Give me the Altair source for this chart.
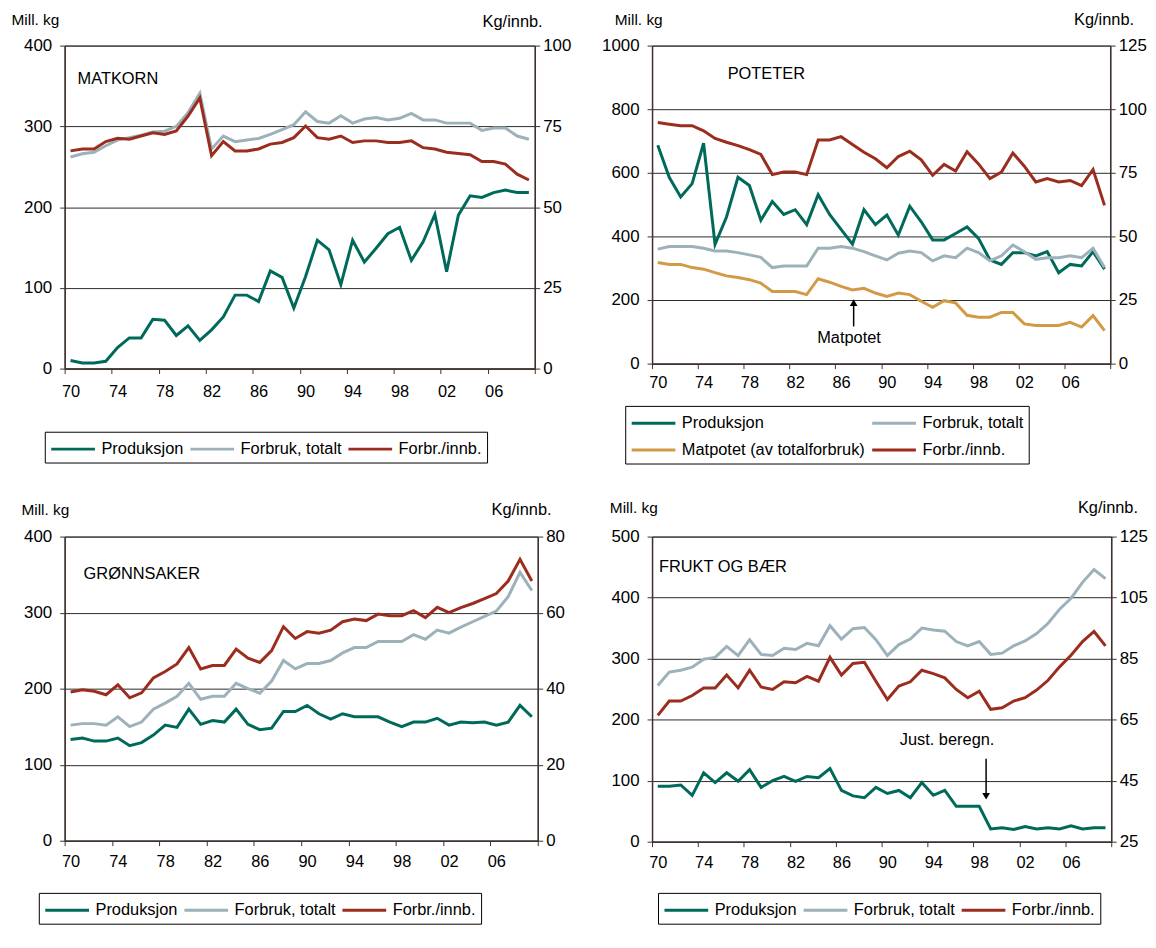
import altair as alt
import pandas as pd

YEARS = list(range(1970, 2010))

# ---------------- MATKORN ----------------
MATKORN_PROD = [10, 7, 7, 9, 26, 38, 38, 61, 60, 41, 53, 35, 48, 64, 91, 91, 83, 121, 113, 75,
                114, 159, 147, 104, 159, 132, 149, 167, 175, 134, 157, 191, 120, 190, 214, 212, 218, 221, 218, 218]
MATKORN_FORBRUK = [262, 266, 268, 276, 283, 286, 289, 293, 294, 300, 317, 341, 272, 288, 281, 283, 285, 290, 296, 302,
                   318, 306, 304, 313, 304, 309, 311, 308, 310, 316, 308, 308, 304, 304, 304, 295, 298, 298, 288, 284]
MATKORN_INNB = [67.4, 68, 68, 70.3, 71.3, 71, 72, 73, 72.5, 73.6, 78.2, 83.8, 65.9, 70.3, 67.4, 67.4, 68, 69.5, 70, 71.5,
                75.1, 71.5, 71, 72, 70, 70.5, 70.5, 70, 70, 70.5, 68.4, 68, 67, 66.6, 66.2, 64.1, 64.1, 63.3, 60.2, 58.4]

# ---------------- POTETER ----------------
POTETER_PROD = [687, 586, 524, 566, 693, 375, 461, 586, 560, 451, 510, 469, 484, 437, 531, 469, 422, 376, 484, 437,
                467, 404, 495, 446, 389, 389, 409, 430, 394, 326, 312, 349, 349, 339, 352, 286, 312, 307, 352, 297]
POTETER_FORBRUK = [360, 368, 368, 368, 363, 354, 354, 349, 342, 334, 302, 307, 307, 307, 363, 363, 368, 363, 352, 339,
                   326, 347, 354, 349, 323, 339, 333, 363, 349, 323, 339, 373, 352, 328, 333, 333, 339, 333, 363, 302]
POTETER_MAT = [318, 312, 312, 302, 297, 286, 276, 271, 264, 253, 227, 227, 227, 217, 267, 256, 243, 232, 237, 222,
               211, 222, 217, 196, 177, 198, 191, 152, 146, 146, 161, 161, 125, 120, 120, 120, 130, 115, 151, 104]
POTETER_INNB = [94.8, 94.1, 93.5, 93.5, 91.5, 88.5, 87, 85.7, 84.1, 82.2, 74.3, 75.3, 75.3, 74.3, 87.9, 87.9, 89.2, 86.1, 83.1, 80.5,
                77, 81.4, 83.5, 80.1, 74, 78.3, 75.7, 83.3, 78.5, 72.7, 75.3, 82.8, 77.6, 71.4, 72.7, 71.4, 72, 70, 76.3, 62.2]

# ---------------- GRØNNSAKER ----------------
GRONN_PROD = [133, 135, 131, 131, 135, 125, 129, 139, 152, 149, 173, 153, 158, 156, 173, 153, 146, 148, 170, 170,
              178, 167, 160, 167, 163, 163, 163, 156, 150, 156, 156, 161, 152, 156, 155, 156, 152, 156, 178, 163]
GRONN_FORBRUK = [152, 154, 154, 152, 163, 150, 156, 173, 181, 190, 207, 186, 190, 190, 207, 200, 194, 210, 237, 226,
                 233, 233, 237, 247, 254, 254, 262, 262, 262, 271, 265, 277, 273, 281, 288, 295, 302, 321, 353, 329]
GRONN_INNB = [39.1, 39.7, 39.3, 38.4, 41, 37.6, 38.9, 42.8, 44.5, 46.5, 50.8, 45.2, 46.1, 46.1, 50.4, 48, 46.9, 50, 56.3, 53.2,
              55, 54.6, 55.4, 57.6, 58.3, 57.9, 59.6, 59.2, 59.2, 60.5, 58.7, 61.4, 60, 61.3, 62.4, 63.7, 65, 68.3, 74, 68.3]

# ---------------- FRUKT OG BÆR ----------------
FRUKT_PROD = [91, 91, 93, 76, 113, 97, 113, 99, 118, 89, 100, 107, 99, 107, 105, 120, 84, 75, 72, 89,
              79, 84, 72, 97, 76, 84, 58, 58, 58, 21, 23, 20, 25, 21, 23, 21, 26, 21, 23, 23]
FRUKT_FORBRUK = [256, 278, 281, 286, 299, 302, 320, 305, 331, 307, 305, 317, 315, 325, 321, 354, 332, 349, 351, 331,
                 305, 323, 332, 350, 347, 345, 328, 321, 328, 307, 309, 321, 329, 341, 358, 381, 399, 425, 446, 431]
FRUKT_INNB = [66.4, 71.1, 71.1, 72.9, 75.4, 75.4, 79.6, 75.4, 81.2, 75.7, 74.9, 77.4, 77.1, 79.2, 77.6, 85.4, 79.6, 83.4, 83.8, 77.6,
              71.6, 76, 77.4, 81.2, 80.1, 78.7, 74.9, 72.2, 74.3, 68.4, 68.9, 71.1, 72.2, 74.7, 77.9, 82.3, 86.1, 90.6, 93.9, 89.2]

# Panel titles and annotations (data coordinates on the left axis)
PANEL_TITLES = ["MATKORN", "POTETER", "GRØNNSAKER", "FRUKT OG BÆR"]
TITLE_YEAR = [1970.6, 1976.1, 1971.1, 1970.1]
TITLE_VALUE = [359, 911, 351, 450]
NOTE_TEXT = ["Matpotet", "Just. beregn."]
NOTE_YEAR = [1986.7, 1995.2]
NOTE_VALUE = [79, 166]
ARROW_YEAR = [1987.1, 1998.6]
ARROW_TAIL = [117, 136]
ARROW_HEAD = [192, 74.5]

SERIES_COLORS = {
    "Produksjon": "#006a5a",
    "Forbruk, totalt": "#9db1bb",
    "Matpotet (av totalforbruk)": "#d39a45",
    "Forbr./innb.": "#9b2d1f",
}

FONT = "Liberation Sans"
AXIS_COLOR = "#3d322d"
GRID_COLOR = "#2a2a2a"


def long_df(series):
    rows = []
    for name, vals in series.items():
        for y, v in zip(YEARS, vals):
            rows.append({"year": y, "series": name, "value": v})
    return pd.DataFrame(rows)


def make_panel(cfg):
    w, h = cfg["width"], cfg["height"]
    order = cfg["order"]
    xscale = alt.Scale(domain=[1969.5, 2009.5], nice=False, zero=False)
    lscale = alt.Scale(domain=cfg["ldom"], nice=False, zero=False)
    rscale = alt.Scale(domain=cfg["rdom"], nice=False, zero=False)

    xaxis = alt.Axis(
        values=[y - 0.5 for y in YEARS] + [2009.5],
        labelExpr="(datum.value < 2009 && (datum.value + 0.5 - 1970) % 4 == 0) ? substring('' + (datum.value + 0.5), 2, 4) : ''",
        labelOffset=w / 80.0, labelPadding=cfg["xpad"], tickSize=5, tickColor=AXIS_COLOR,
        domainColor=AXIS_COLOR, domainWidth=1.5, grid=False, title=None,
        labelFont=FONT, labelFontSize=16.5, labelColor="black",
        labelOverlap=False, labelFlush=False, labelBound=False,
    )
    laxis = alt.Axis(
        values=cfg["lticks"], format="d", grid=True, gridColor=GRID_COLOR, gridWidth=1,
        tickSize=5, tickColor=AXIS_COLOR, domainColor=AXIS_COLOR, domainWidth=1.5,
        labelPadding=8, labelFont=FONT, labelFontSize=17, labelColor="black",
        title="Mill. kg", titleAngle=0, titleAlign="left", titleBaseline="alphabetic",
        titleX=cfg["ltx"], titleY=cfg["lty"], titleFont=FONT, titleFontSize=15.5,
        titleFontWeight="normal", titleColor="black", labelFlush=False,
    )
    raxis = alt.Axis(
        orient="right", values=cfg["rticks"], format="d", grid=False,
        tickSize=5, tickColor=AXIS_COLOR, domainColor=AXIS_COLOR, domainWidth=1.5,
        labelPadding=3, labelFont=FONT, labelFontSize=17, labelColor="black",
        title="Kg/innb.", titleAngle=0, titleAlign="left", titleBaseline="alphabetic",
        titleX=cfg["rtx"], titleY=cfg["rty"], titleFont=FONT, titleFontSize=16.5,
        titleFontWeight="normal", titleColor="black", labelFlush=False,
    )
    legend = alt.Legend(
        title=None, orient="none", legendX=cfg["lgx"], legendY=cfg["lgy"],
        direction="horizontal", columns=cfg["lgcols"],
        symbolType="M-1,0H3", symbolSize=484, symbolStrokeWidth=3,
        labelFont=FONT, labelFontSize=16.5, labelColor="black", labelOffset=27,
        labelLimit=400, columnPadding=0, rowPadding=6, padding=5,
        strokeColor="black", fillColor="white",
    )
    color = alt.Color("series:N",
                      scale=alt.Scale(domain=order, range=[SERIES_COLORS[s] for s in order]),
                      legend=legend)

    left_df = long_df(cfg["left"])
    right_df = long_df(cfg["right"])

    left_lines = alt.Chart(left_df).mark_line(strokeWidth=3).encode(
        x=alt.X("year:Q", scale=xscale, axis=xaxis),
        y=alt.Y("value:Q", scale=lscale, axis=laxis),
        color=color,
    )
    i = cfg["idx"]
    title_df = pd.DataFrame({"year": [TITLE_YEAR[i]], "value": [TITLE_VALUE[i]], "label": [PANEL_TITLES[i]]})
    title_layer = alt.Chart(title_df).mark_text(
        align="left", baseline="middle", font=FONT, fontSize=16.5, color="black"
    ).encode(
        x=alt.X("year:Q", scale=xscale),
        y=alt.Y("value:Q", scale=lscale),
        text="label:N",
    )
    layers = [left_lines, title_layer]
    if cfg.get("note") is not None:
        j = cfg["note"]
        note_df = pd.DataFrame({"year": [NOTE_YEAR[j]], "value": [NOTE_VALUE[j]], "label": [NOTE_TEXT[j]]})
        arrow_df = pd.DataFrame({"year": [ARROW_YEAR[j]], "value": [ARROW_TAIL[j]], "value2": [ARROW_HEAD[j]]})
        head_df = pd.DataFrame({"year": [ARROW_YEAR[j]], "value": [ARROW_HEAD[j]]})
        layers.append(alt.Chart(note_df).mark_text(
            align="center", baseline="middle", font=FONT, fontSize=16.5, color="black"
        ).encode(
            x=alt.X("year:Q", scale=xscale),
            y=alt.Y("value:Q", scale=lscale),
            text="label:N",
        ))
        layers.append(alt.Chart(arrow_df).mark_rule(strokeWidth=1.5, color="black").encode(
            x=alt.X("year:Q", scale=xscale),
            y=alt.Y("value:Q", scale=lscale),
            y2="value2:Q",
        ))
        layers.append(alt.Chart(head_df).mark_point(
            shape=cfg["arrow_shape"], filled=True, size=60, color="black", opacity=1
        ).encode(
            x=alt.X("year:Q", scale=xscale),
            y=alt.Y("value:Q", scale=lscale),
        ))

    right_line = alt.Chart(right_df).mark_line(strokeWidth=3).encode(
        x=alt.X("year:Q", scale=xscale),
        y=alt.Y("value:Q", scale=rscale, axis=raxis),
        color=color,
    )
    return alt.layer(alt.layer(*layers), right_line).resolve_scale(y="independent").properties(width=w, height=h)


p1 = make_panel(dict(
    idx=0, width=473, height=325,
    left={"Produksjon": MATKORN_PROD, "Forbruk, totalt": MATKORN_FORBRUK},
    right={"Forbr./innb.": MATKORN_INNB},
    order=["Produksjon", "Forbruk, totalt", "Forbr./innb."],
    ldom=[0, 400], lticks=[0, 100, 200, 300, 400], rdom=[0, 100], rticks=[0, 25, 50, 75, 100],
    ltx=-54, lty=-21.5, rtx=-53, rty=-19.5, xpad=10, lgx=-20, lgy=388.5, lgcols=3,
))
p2 = make_panel(dict(
    idx=1, width=461, height=320,
    left={"Produksjon": POTETER_PROD, "Forbruk, totalt": POTETER_FORBRUK, "Matpotet (av totalforbruk)": POTETER_MAT},
    right={"Forbr./innb.": POTETER_INNB},
    order=["Produksjon", "Forbruk, totalt", "Matpotet (av totalforbruk)", "Forbr./innb."],
    ldom=[0, 1000], lticks=[0, 200, 400, 600, 800, 1000], rdom=[0, 125], rticks=[0, 25, 50, 75, 100, 125],
    ltx=-38, lty=-21, rtx=-37, rty=-21, xpad=6, lgx=-27, lgy=362.5, lgcols=2,
    note=0, arrow_shape="triangle-up",
))
p3 = make_panel(dict(
    idx=2, width=476, height=306,
    left={"Produksjon": GRONN_PROD, "Forbruk, totalt": GRONN_FORBRUK},
    right={"Forbr./innb.": GRONN_INNB},
    order=["Produksjon", "Forbruk, totalt", "Forbr./innb."],
    ldom=[0, 400], lticks=[0, 100, 200, 300, 400], rdom=[0, 80], rticks=[0, 20, 40, 60, 80],
    ltx=-44, lty=-22, rtx=-47, rty=-22, xpad=8, lgx=-26, lgy=358.5, lgcols=3,
))
p4 = make_panel(dict(
    idx=3, width=462, height=307,
    left={"Produksjon": FRUKT_PROD, "Forbruk, totalt": FRUKT_FORBRUK},
    right={"Forbr./innb.": FRUKT_INNB},
    order=["Produksjon", "Forbruk, totalt", "Forbr./innb."],
    ldom=[0, 500], lticks=[0, 100, 200, 300, 400, 500], rdom=[25, 125], rticks=[25, 45, 65, 85, 105, 125],
    ltx=-43, lty=-24, rtx=-34, rty=-24, xpad=8, lgx=6, lgy=358.5, lgcols=3,
    note=1, arrow_shape="triangle-down",
))

chart = alt.concat(
    p1, p2, p3, p4, columns=2, spacing={"row": 169, "column": 115}, bounds="flush"
).resolve_scale(
    x="independent", y="independent", color="independent"
).properties(
    padding={"left": 2, "top": 0, "right": 0, "bottom": 0}
).configure(
    font=FONT
).configure_view(
    stroke="#4f403a", strokeWidth=1
)

chart.save("out.html", embed_options={"renderer": "svg", "actions": False})
